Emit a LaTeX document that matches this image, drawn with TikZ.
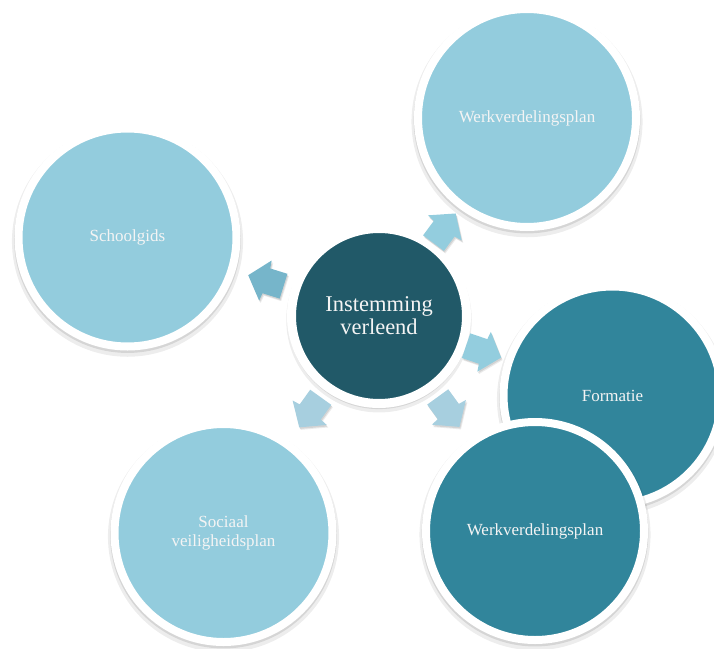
\documentclass[tikz,border=0pt]{standalone}
\usepackage{fontspec}
\setmainfont{Liberation Serif}
\usetikzlibrary{shadows,calc}
\definecolor{lightb}{HTML}{93CCDD}
\definecolor{darkb}{HTML}{215968}
\definecolor{midb}{HTML}{31859B}
\definecolor{arrA}{HTML}{76B5CA}
\definecolor{arrB}{HTML}{93CDDE}
\definecolor{arrC}{HTML}{A7CFDF}
\definecolor{txt}{HTML}{F4F4F4}
\tikzset{
  bub/.style={circle, inner sep=0pt, minimum size=218pt, draw=white, line width=8pt,
    text=txt, align=center, font=\fontsize{17}{19.5}\selectfont,
    drop shadow={shadow xshift=0pt, shadow yshift=-3.5pt, shadow scale=1.06, opacity=0.07, fill=black},
    drop shadow={shadow xshift=0pt, shadow yshift=-2pt, shadow scale=1.04, opacity=0.1, fill=black}},
  pics/barrow/.style={code={
    \fill[fill=#1,
      drop shadow={shadow xshift=1.5pt, shadow yshift=-2.5pt, opacity=0.08, fill=black},
      drop shadow={shadow xshift=0.8pt, shadow yshift=-1.5pt, opacity=0.1, fill=black}]
      (19,0) -- (1,21) -- (0,13) -- (-18,13) -- (-18,-13) -- (0,-13) -- (1,-21) -- cycle;}}
}
\begin{document}
\begin{tikzpicture}[x=1pt,y=-1pt]
\useasboundingbox (0,0) rectangle (714,648);
\clip (0,0) rectangle (714,648);
\node[bub, fill=lightb] (school) at (127.5,237.5) {Schoolgids};
\node[bub, fill=lightb] (werk1) at (527,118) {Werkverdelingsplan};
\node[bub, fill=midb] (form) at (612.5,395.5) {Formatie};
\node[bub, fill=midb] (werk2) at (535,531) {Werkverdelingsplan};
\node[bub, fill=lightb] (soc) at (223.5,533) {Sociaal\\veiligheidsplan};
\node[bub, fill=darkb, minimum size=175pt, line width=9pt,
      font=\fontsize{22.5}{23}\selectfont] (c) at (379,316) {Instemming\\verleend};
\foreach \s/\d/\col in {school/118/arrA, werk1/109/arrB, form/110/arrB, werk2/118/arrC, soc/118/arrC}{
  \path let \p1=($(\s)-(c)$), \n1={atan2(\y1,\x1)} in
    pic[rotate=\n1] at ($(c)!\d pt!(\s)$) {barrow=\col};
}
\end{tikzpicture}
\end{document}
